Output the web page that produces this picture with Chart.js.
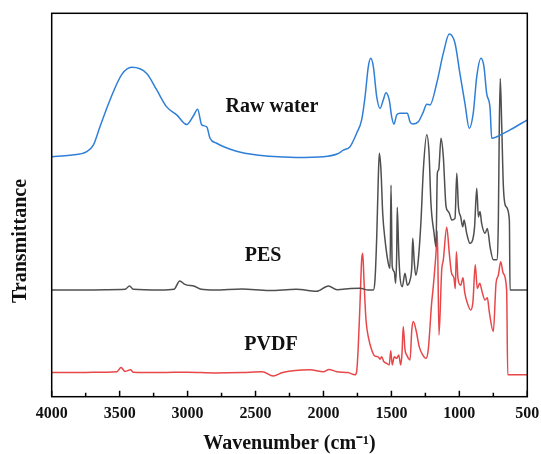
<!DOCTYPE html>
<html>
<head>
<meta charset="utf-8">
<script src="https://cdn.jsdelivr.net/npm/chart.js@4.4.1/dist/chart.umd.min.js"></script>
<style>
  html, body { margin: 0; padding: 0; background: #fff; }
  #wrap { width: 541px; height: 454px; }
</style>
</head>
<body>
<div id="wrap"><canvas id="ftir" width="541" height="454"></canvas></div>
<script>
// x tick labels (wavenumber, cm-1)
const xTicks = [4000, 3500, 3000, 2500, 2000, 1500, 1000, 500];
const minorTicks = [3750, 3250, 2750, 2250, 1750, 1250, 750];

// Raw water
const rawWn = [4000, 3865, 3742, 3694, 3645, 3571, 3485, 3411, 3301, 3227, 3154, 3080, 3007, 2958, 2926, 2896, 2859, 2835, 2786, 2664,
  2541, 2400, 2200, 2000, 1900, 1854, 1805, 1756, 1719, 1694, 1670, 1652, 1633, 1608, 1584, 1560, 1540, 1516, 1498, 1481,
  1461, 1437, 1383, 1363, 1343, 1302, 1265, 1240, 1216, 1167, 1118, 1074, 1032, 996, 959, 927, 898, 872, 841, 819,
  799, 774, 762, 725, 627, 500];
const rawT = [62.6, 63.0, 63.9, 65.6, 70.4, 77.4, 84.0, 85.9, 84.3, 80.0, 75.6, 73.5, 71.0, 73.2, 75.0, 70.9, 70.4, 67.4, 66.1, 64.3,
  63.3, 62.7, 62.4, 62.6, 63.3, 64.3, 65.2, 68.7, 72.2, 78.2, 86.1, 88.3, 86.1, 78.2, 75.2, 77.4, 79.3, 77.4, 73.0, 71.1,
  73.5, 73.9, 73.9, 71.7, 71.1, 71.7, 74.3, 76.3, 76.1, 81.7, 89.6, 94.6, 92.2, 84.3, 76.5, 70.0, 73.9, 83.5, 88.3, 86.1,
  79.1, 75.2, 67.4, 67.8, 69.6, 72.2];

// PES membrane
const pesWn = [4000, 3800, 3600, 3460, 3427, 3400, 3200, 3100, 3058, 3020, 2950, 2900, 2800, 2600, 2400, 2200, 2050, 1964, 1900, 1800,
  1731, 1670, 1633, 1621, 1608, 1597, 1589, 1577, 1564, 1547, 1523, 1510, 1503, 1494, 1479, 1469, 1461, 1457, 1446, 1437,
  1420, 1400, 1383, 1363, 1350, 1343, 1333, 1321, 1302, 1282, 1265, 1240, 1223, 1209, 1186, 1172, 1162, 1152, 1135, 1118,
  1098, 1081, 1073, 1056, 1032, 1019, 1007, 990, 975, 965, 946, 922, 902, 888, 872, 860, 848, 836, 811, 794,
  774, 750, 725, 713, 706, 699, 688, 676, 657, 632, 627, 500];
const pesT = [27.8, 27.8, 27.9, 28.0, 28.9, 28.0, 27.8, 28.0, 30.2, 29.3, 28.8, 28.0, 27.8, 28.1, 27.7, 28.0, 27.5, 28.9, 27.9, 28.2,
  28.3, 27.8, 27.8, 30.4, 41.7, 56.5, 63.5, 59.2, 47.8, 40.9, 34.8, 33.5, 55.2, 33.9, 32.6, 29.6, 37.4, 49.4, 37.4, 31.3,
  28.7, 32.2, 29.1, 30.4, 33.9, 41.3, 35.7, 31.7, 35.7, 46.1, 59.2, 68.3, 63.5, 50.4, 42.6, 39.1, 58.3, 59.2, 67.4, 62.6,
  49.6, 48.3, 47.8, 46.1, 46.5, 58.3, 49.6, 46.9, 44.3, 46.1, 42.6, 40.0, 40.9, 44.3, 54.4, 46.9, 48.3, 45.2, 42.6, 43.9,
  39.1, 35.7, 35.7, 46.1, 70.4, 83.0, 70.4, 54.8, 49.6, 46.1, 27.8, 27.8];

// PVDF membrane
const pvdfWn = [4000, 3800, 3600, 3520, 3490, 3460, 3420, 3400, 3200, 3000, 2800, 2600, 2450, 2370, 2300, 2100, 2000, 1960, 1900, 1820,
  1768, 1756, 1744, 1731, 1719, 1711, 1702, 1687, 1670, 1645, 1621, 1597, 1584, 1572, 1555, 1535, 1516, 1505, 1494, 1479,
  1461, 1446, 1432, 1422, 1413, 1400, 1388, 1363, 1350, 1339, 1319, 1295, 1270, 1246, 1229, 1204, 1192, 1172, 1162, 1150,
  1130, 1118, 1093, 1074, 1059, 1039, 1030, 1022, 1010, 990, 973, 961, 936, 917, 900, 883, 868, 850, 833, 811,
  794, 780, 750, 730, 713, 696, 677, 652, 644, 500];
const pvdfT = [6.3, 6.3, 6.4, 6.5, 7.6, 6.6, 7.0, 6.4, 6.3, 6.4, 6.2, 6.3, 6.5, 5.4, 6.3, 7.0, 6.5, 7.1, 6.5, 6.3,
  5.7, 6.5, 13.0, 24.4, 35.7, 37.4, 30.4, 20.0, 15.6, 12.2, 10.6, 10.4, 9.8, 10.4, 9.1, 8.7, 8.3, 12.0, 8.3, 10.4,
  10.0, 10.9, 8.3, 11.3, 18.3, 12.2, 10.9, 9.6, 17.4, 19.6, 17.4, 13.0, 10.9, 10.0, 12.2, 24.4, 28.7, 37.4, 43.2, 16.1,
  33.0, 35.7, 44.2, 37.4, 32.5, 30.8, 28.2, 37.8, 30.8, 29.1, 31.0, 27.3, 23.9, 22.6, 24.8, 34.4, 28.2, 29.6, 27.4, 25.2,
  25.8, 22.2, 17.0, 29.6, 31.7, 35.2, 32.2, 27.8, 5.7, 5.7];

const seriesNames = ["Raw water", "PES", "PVDF"];

const toPoints = (wn, t) => wn.map((x, i) => ({ x: x, y: t[i] }));
const serif = "'Liberation Serif', 'Times New Roman', serif";

// text labels placed in data coordinates
const labelSpots = [
  { text: seriesNames[0], x: 2379, y: 75.6 },
  { text: seriesNames[1], x: 2445, y: 36.7 },
  { text: seriesNames[2], x: 2386, y: 13.5 },
];

const decor = {
  id: "decor",
  afterDraw(chart) {
    const { ctx, chartArea: a, scales } = chart;
    const x = scales.x, y = scales.y;
    ctx.save();
    ctx.strokeStyle = "#000";
    ctx.lineWidth = 1.5;
    ctx.strokeRect(a.left, a.top, a.right - a.left, a.bottom - a.top);

    ctx.beginPath();
    xTicks.forEach((t) => {
      const px = x.getPixelForValue(t);
      ctx.moveTo(px, a.bottom);
      ctx.lineTo(px, a.bottom - 6);
    });
    minorTicks.forEach((t) => {
      const px = x.getPixelForValue(t);
      ctx.moveTo(px, a.bottom);
      ctx.lineTo(px, a.bottom - 4);
    });
    ctx.stroke();

    ctx.fillStyle = "#111";
    ctx.font = "bold 20px " + serif;
    ctx.textAlign = "center";
    ctx.textBaseline = "middle";
    labelSpots.forEach((l) => {
      ctx.fillText(l.text, x.getPixelForValue(l.x), y.getPixelForValue(l.y));
    });

    ctx.translate(20.5, 241);
    ctx.rotate(-Math.PI / 2);
    ctx.fillText("Transmittance", 0, 0);
    ctx.restore();
  },
};

new Chart(document.getElementById("ftir"), {
  type: "line",
  data: {
    datasets: [
      { label: seriesNames[0], data: toPoints(rawWn, rawT), borderColor: "#2f7fd8" },
      { label: seriesNames[1], data: toPoints(pesWn, pesT), borderColor: "#4f4f4f" },
      { label: seriesNames[2], data: toPoints(pvdfWn, pvdfT), borderColor: "#e8474a" },
    ],
  },
  options: {
    responsive: false,
    animation: false,
    devicePixelRatio: 1,
    layout: { padding: { left: 51.7, right: 13.7, top: 13.3, bottom: 0 } },
    elements: {
      point: { radius: 0 },
      line: { borderWidth: 1.5, cubicInterpolationMode: "monotone", fill: false },
    },
    plugins: { legend: { display: false }, tooltip: { enabled: false } },
    scales: {
      x: {
        type: "linear",
        reverse: true,
        min: 500,
        max: 4000,
        grid: { display: false, drawTicks: false },
        border: { display: false },
        afterBuildTicks: (scale) => {
          scale.ticks = xTicks.map((v) => ({ value: v }));
        },
        afterFit: (scale) => {
          scale.height = 57.3;
          scale.paddingLeft = 0;
          scale.paddingRight = 0;
        },
        ticks: {
          padding: 8,
          color: "#111",
          font: { family: serif, size: 16, weight: "bold" },
          callback: (v) => String(v),
          maxRotation: 0,
          autoSkip: false,
        },
        title: {
          display: true,
          text: "Wavenumber (cm⁻¹)",
          color: "#111",
          font: { family: serif, size: 20, weight: "bold", lineHeight: 1 },
          padding: { top: 0, bottom: 0 },
        },
      },
      y: {
        display: false,
        min: 0,
        max: 100,
      },
    },
  },
  plugins: [decor],
});
</script>
</body>
</html>
